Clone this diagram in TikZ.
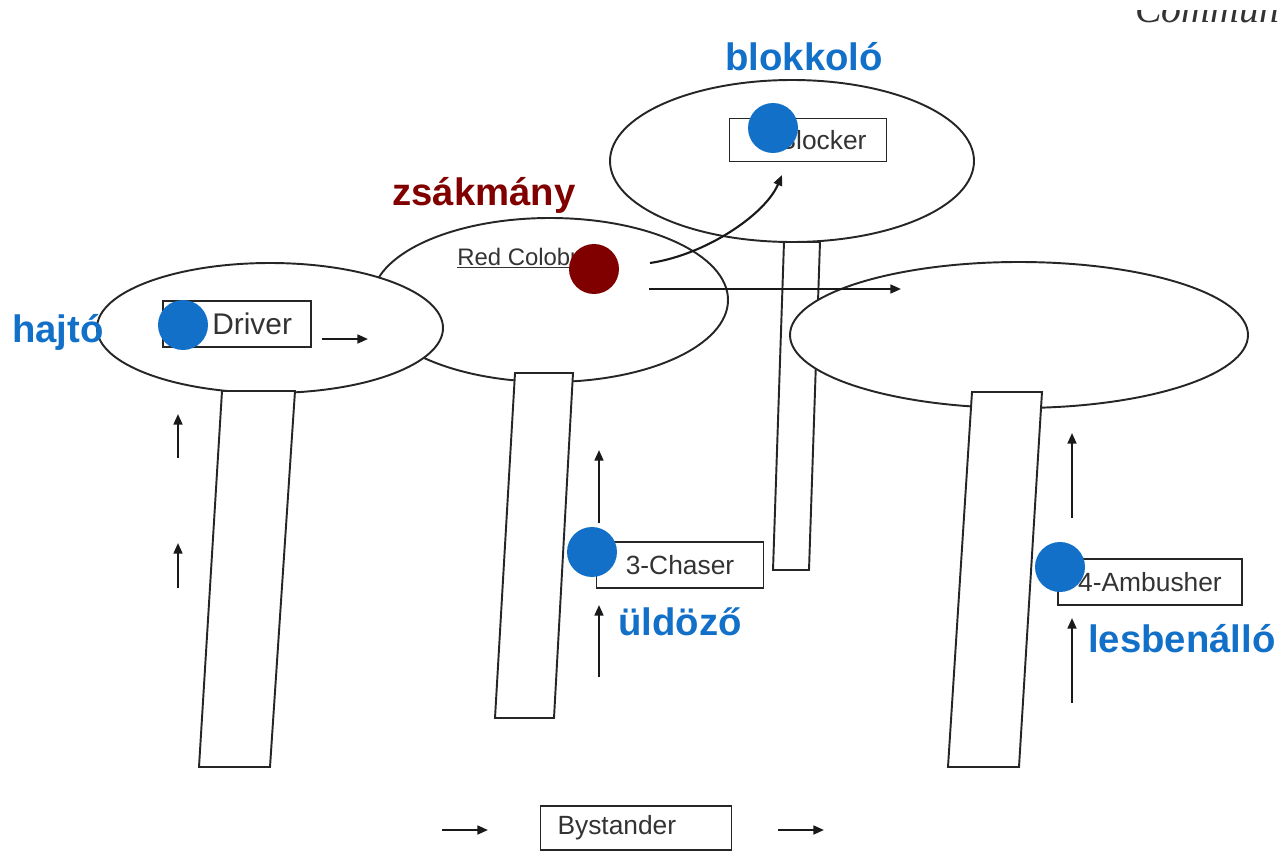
\documentclass[tikz,border=0pt]{standalone}
\usepackage{fontspec}
\setmainfont{Liberation Sans}
\newfontfamily\headfont{Liberation Serif}
\usetikzlibrary{arrows.meta}
\definecolor{roleblue}{HTML}{1270C8}
\definecolor{preyred}{HTML}{800000}

\begin{document}
\begin{tikzpicture}[x=0.02cm,y=-0.02cm,
    inkline/.style={draw=black!85,line width=1.1pt},
    trunk/.style={inkline,fill=white},
    rolebox/.style={inkline,fill=white,minimum height=0.92cm,inner ysep=0pt,text=black!80,
      font=\fontsize{15pt}{18pt}\selectfont},
    move/.style={draw=black!90,line width=1.2pt,-{Triangle[length=6pt,width=5pt]}},
    rolemark/.style={circle,fill=#1,minimum size=1cm,inner sep=0pt},
    rolename/.style={text=#1,anchor=base,inner sep=0pt,
      font=\fontsize{21.8pt}{26pt}\selectfont\bfseries}]
        \useasboundingbox (0,0) rectangle (1282,852);

        % Cut-off heading in the top right corner
        \begin{scope}
            \clip (1100,10) rectangle (1282,40);
            \node[anchor=base west,inner sep=0pt,text=black!80,
              font=\headfont\itshape\fontsize{22.7pt}{27pt}\selectfont] (header) at (1135,22) {Commun};
        \end{scope}

        % Blocker tree trunk (hidden behind the ambusher crown)
        \draw[trunk] (784,242) -- (820,242) -- (809,570) -- (773,570) -- cycle;

        % Tree crowns
        \draw[inkline] (550,300) ellipse [x radius=178,y radius=82];
        \draw[inkline] (792,161) ellipse [x radius=182,y radius=81];
        \draw[inkline,fill=white] (270,328) ellipse [x radius=173,y radius=65];
        \draw[inkline,fill=white] (1019,335) ellipse [x radius=229,y radius=73];

        % Other trunks
        \draw[trunk] (222,391) -- (295,391) -- (270,767) -- (199,767) -- cycle;
        \draw[trunk] (515,373) -- (573,373) -- (554,718) -- (495,718) -- cycle;
        \draw[trunk] (972,392) -- (1042,392) -- (1019,767) -- (948,767) -- cycle;

        % Role boxes
        \node[rolebox,minimum width=2.96cm,text width=2.2cm,inner xsep=0.38cm,align=right,
          font=\fontsize{17pt}{20pt}\selectfont] (driver) at (237,324) {Driver};
        \node[rolebox,minimum width=3.14cm,minimum height=0.86cm,text width=2.34cm,
          inner xsep=0.4cm,align=right] (blocker) at (808,140) {Blocker};
        \node[rolebox,minimum width=3.34cm] (chaser) at (680,565) {3-Chaser};
        \node[rolebox,minimum width=3.68cm] (ambusher) at (1150,582) {4-Ambusher};
        \node[rolebox,minimum width=3.82cm,minimum height=0.88cm,text width=3.14cm,
          inner xsep=0.34cm,align=left] (bystander) at (636,828) {Bystander};
        \node[anchor=base west,inner sep=0pt,text=black!80,
          font=\fontsize{13.6pt}{16pt}\selectfont] (colobus) at (457,265) {\underline{Red Colobus}};

        % Movement arrows
        \foreach \n/\x/\ya/\yb in {dvA/178/458/414, dvB/178/588/543, chA/599/523/450,
                                  chB/599/677/605, amA/1072/518/433, amB/1072/703/618} {
            \coordinate (\n-s) at (\x,\ya);
            \coordinate (\n-e) at (\x,\yb);
            \draw[move] (\n-s) -- (\n-e);
        }
        \coordinate (dvR-s) at (322,339);
        \coordinate (dvR-e) at (368,339);
        \draw[move] (dvR-s) -- (dvR-e);
        \coordinate (byL-s) at (442,830);
        \coordinate (byL-e) at (488,830);
        \draw[move] (byL-s) -- (byL-e);
        \coordinate (byR-s) at (778,830);
        \coordinate (byR-e) at (824,830);
        \draw[move] (byR-s) -- (byR-e);
        \coordinate (prey-run) at (649,289);
        \coordinate (prey-far) at (901,289);
        \draw[move] (prey-run) -- (prey-far);
        \coordinate (prey-up) at (650,263);
        \coordinate (block-in) at (782,175);
        \draw[move] (prey-up) .. controls (705,255) and (765,215) .. (block-in);

        % Position markers
        \node[rolemark=roleblue] (hajtodot) at (183,325) {};
        \node[rolemark=roleblue] (blokkdot) at (773,128) {};
        \node[rolemark=roleblue] (uldozodot) at (592,552) {};
        \node[rolemark=roleblue] (lesdot) at (1060,567) {};
        \node[rolemark=preyred] (preydot) at (594,269) {};

        % Hungarian role names
        \node[rolename=roleblue] (blokkolo) at (804,71) {blokkoló};
        \node[rolename=preyred] (zsakmany) at (484,205) {zsákmány};
        \node[rolename=roleblue] (hajto) at (58,342) {hajtó};
        \node[rolename=roleblue] (uldozo) at (680,635) {üldöző};
        \node[rolename=roleblue] (lesbenallo) at (1182,652) {lesbenálló};
    \end{tikzpicture}
\end{document}
